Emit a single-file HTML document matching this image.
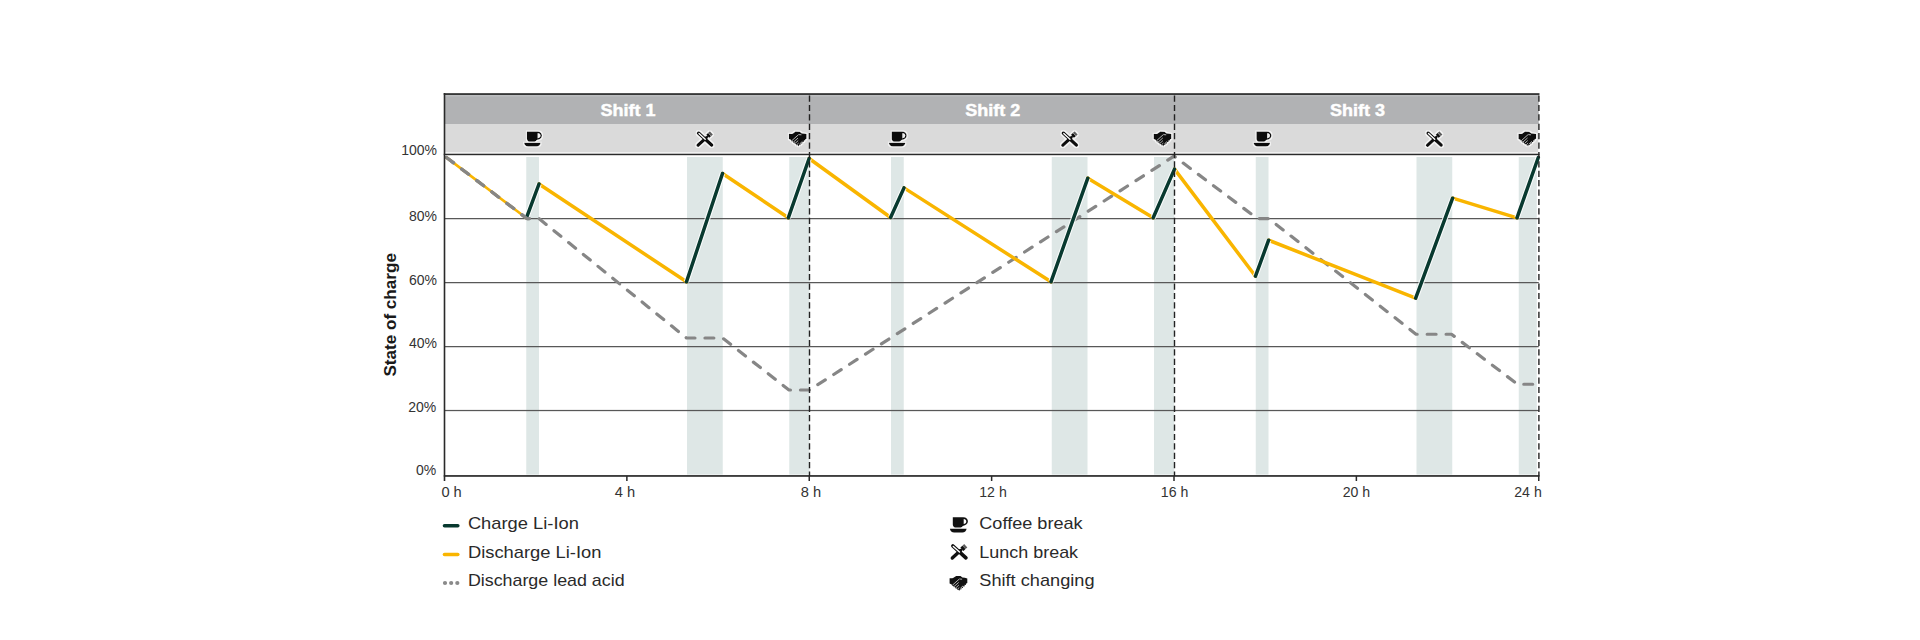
<!DOCTYPE html>
<html lang="en"><head><meta charset="utf-8"><title>State of charge</title>
<style>
html,body{margin:0;padding:0;background:#fff;}
body{width:1920px;height:640px;overflow:hidden;}
svg{display:block;font-family:"Liberation Sans",sans-serif;}
.ax{font-size:14px;fill:#333;}
.lg{font-size:17px;fill:#2a2a2a;}
.sh{font-size:17px;font-weight:bold;fill:#fff;stroke:#fff;stroke-width:.45px;}
.yt{font-size:16.5px;font-weight:bold;fill:#1a1a1a;}
</style></head><body>
<svg width="1920" height="640" viewBox="0 0 1920 640">
<defs>
<filter id="halo" x="-25%" y="-25%" width="150%" height="150%">
<feMorphology in="SourceAlpha" operator="dilate" radius="1" result="d"/>
<feGaussianBlur in="d" stdDeviation=".45" result="b"/>
<feFlood flood-color="#fff" flood-opacity=".75"/>
<feComposite in2="b" operator="in" result="h"/>
<feMerge><feMergeNode in="h"/><feMergeNode in="SourceGraphic"/></feMerge>
</filter>
<g id="cup">
<path d="M2.900 0.100H13.400C16.300 0.100 18 1.800 18 4.100C18 6.600 16 8.300 12.900 8.700C12.400 9.600 11.600 10.200 10.600 10.400H5.500C3.900 10.200 2.900 9 2.900 7.400Z M13.800 1.900V6.900C15.400 6.600 16.400 5.600 16.400 4.300C16.400 3 15.400 2 13.800 1.900Z" fill="#111" fill-rule="evenodd"/>
<path d="M0 11.500H16.700C16.400 13.700 14.800 15.200 12.400 15.200H4.300C1.900 15.200 .3 13.700 0 11.500Z" fill="#111"/>
</g>
<g id="lunch">
<path d="M2 14.200L10.200 6.700" stroke="#111" stroke-width="3.400" stroke-linecap="round" fill="none"/>
<path d="M9.500 7.400L12 5.100" stroke="#111" stroke-width="2" fill="none"/>
<path d="M10.060 3.700L12.130 1.830L15.210 5.230L13.140 7.100Z" fill="#111"/>
<path d="M12.130 1.830L13.910 .220L16.990 3.620L15.210 5.230Z" fill="#5c5c5c"/>
<path d="M2.600 2.200L15.600 14" stroke="#111" stroke-width="3.700" stroke-linecap="round" fill="none"/>
<path d="M3 2.600L9.200 8.200" stroke="#fff" stroke-width="1.400" stroke-linecap="round" fill="none"/>
</g>
<g id="hands">
<path d="M-.1 2.300L2.600 2.400L3.800 1.900L6.500 0L10.800 .150L12.750 1.700L15.100 1.900L17.600 2.500V7.200L16.200 7.900L16.300 9L15 8.900L14.800 10.600L13.500 10.400L13.200 12.200L11.900 11.900L11.500 13.700L10.400 13.300L9.600 14.900L8.400 13.600L7.600 14L6.900 12.400L5.900 12.700L5.300 11.100L4.200 11.400L3.600 9.800L2.500 10.100L2 8.500L-.1 7.600Z" fill="#111"/>
<path d="M2.600 9.400L9.600 3.100M4.200 10.800L9 6.500M5.900 12.100L9.200 9.100M7.600 13.400L9.600 11.600M10.600 12.500L13.400 9.900M9.800 3.100L12.400 3.300" stroke="#fff" stroke-opacity=".9" stroke-width=".75" fill="none"/>
</g>
</defs>

<rect x="444.5" y="94" width="1094.25" height="30" fill="#b1b2b4"/>
<rect x="444.5" y="95" width="1094.25" height="1.5" fill="#bcbdbf"/>
<rect x="444.5" y="124" width="1093.75" height="28.4" fill="#dadada"/>
<rect x="526.25" y="157" width="12.75" height="317.6" fill="#dee7e6"/>
<rect x="687.00" y="157" width="35.75" height="317.6" fill="#dee7e6"/>
<rect x="789.25" y="157" width="20.25" height="317.6" fill="#dee7e6"/>
<rect x="891.00" y="157" width="12.75" height="317.6" fill="#dee7e6"/>
<rect x="1051.75" y="157" width="35.75" height="317.6" fill="#dee7e6"/>
<rect x="1154.00" y="157" width="20.25" height="317.6" fill="#dee7e6"/>
<rect x="1255.75" y="157" width="12.75" height="317.6" fill="#dee7e6"/>
<rect x="1416.50" y="157" width="35.75" height="317.6" fill="#dee7e6"/>
<rect x="1518.75" y="157" width="18.05" height="317.6" fill="#dee7e6"/>
<rect x="444.5" y="218.00" width="1094.25" height="1.25" fill="#585858"/>
<rect x="444.5" y="282.00" width="1094.25" height="1.25" fill="#585858"/>
<rect x="444.5" y="346.00" width="1094.25" height="1.25" fill="#585858"/>
<rect x="444.5" y="409.90" width="1094.25" height="1.25" fill="#585858"/>
<path d="M444.5 156L527 218.6L539 218.6L686.5 338L722.5 338L789 390L809.5 390L1174 156.2L1257.5 218.6L1268.75 218.6L1416 334.25L1451.5 334.25L1517.5 384.25L1538 384.25" stroke="#868686" stroke-width="3.2" stroke-dasharray="8.9 10" stroke-dashoffset="16.4" stroke-linecap="round" stroke-linejoin="round" fill="none"/>
<path d="M446.6 157.59L526.5 218.2" stroke="#f9b500" stroke-width="2.6" stroke-linecap="round" fill="none"/>
<path d="M539 184.0L686.5 281.8" stroke="#f9b500" stroke-width="3.5" stroke-linecap="round" fill="none"/>
<path d="M722.5 173.5L788.3 217.8" stroke="#f9b500" stroke-width="3.5" stroke-linecap="round" fill="none"/>
<path d="M809.1 158.5L890.6 217.5" stroke="#f9b500" stroke-width="3.5" stroke-linecap="round" fill="none"/>
<path d="M904.0 187.9L1051 281.8" stroke="#f9b500" stroke-width="3.5" stroke-linecap="round" fill="none"/>
<path d="M1087.8 178.2L1153.2 217.8" stroke="#f9b500" stroke-width="3.5" stroke-linecap="round" fill="none"/>
<path d="M1174.5 169.1L1255.5 276.2" stroke="#f9b500" stroke-width="3.5" stroke-linecap="round" fill="none"/>
<path d="M1268.6 240.2L1415.7 298.2" stroke="#f9b500" stroke-width="3.5" stroke-linecap="round" fill="none"/>
<path d="M1452.6 198.2L1517 217.8" stroke="#f9b500" stroke-width="3.5" stroke-linecap="round" fill="none"/>
<path d="M526.5 217.6L539 184.0" stroke="#fff" stroke-opacity=".85" stroke-width="5.6" fill="none"/>
<path d="M686.5 281.8L722.5 173.5" stroke="#fff" stroke-opacity=".85" stroke-width="5.6" fill="none"/>
<path d="M788.3 217.8L809.1 158.5" stroke="#fff" stroke-opacity=".85" stroke-width="5.6" fill="none"/>
<path d="M890.6 217.5L904.0 187.9" stroke="#fff" stroke-opacity=".85" stroke-width="5.6" fill="none"/>
<path d="M1051 281.8L1087.8 178.2" stroke="#fff" stroke-opacity=".85" stroke-width="5.6" fill="none"/>
<path d="M1153.2 217.8L1174.5 169.1" stroke="#fff" stroke-opacity=".85" stroke-width="5.6" fill="none"/>
<path d="M1255.5 276.2L1268.6 240.2" stroke="#fff" stroke-opacity=".85" stroke-width="5.6" fill="none"/>
<path d="M1415.7 298.2L1452.6 198.2" stroke="#fff" stroke-opacity=".85" stroke-width="5.6" fill="none"/>
<path d="M1517 217.8L1538.3 157.5" stroke="#fff" stroke-opacity=".85" stroke-width="5.6" fill="none"/>
<path d="M526.5 217.6L539 184.0" stroke="#08392f" stroke-width="3.5" stroke-linecap="round" fill="none"/>
<path d="M686.5 281.8L722.5 173.5" stroke="#08392f" stroke-width="3.5" stroke-linecap="round" fill="none"/>
<path d="M788.3 217.8L809.1 158.5" stroke="#08392f" stroke-width="3.5" stroke-linecap="round" fill="none"/>
<path d="M890.6 217.5L904.0 187.9" stroke="#08392f" stroke-width="3.5" stroke-linecap="round" fill="none"/>
<path d="M1051 281.8L1087.8 178.2" stroke="#08392f" stroke-width="3.5" stroke-linecap="round" fill="none"/>
<path d="M1153.2 217.8L1174.5 169.1" stroke="#08392f" stroke-width="3.5" stroke-linecap="round" fill="none"/>
<path d="M1255.5 276.2L1268.6 240.2" stroke="#08392f" stroke-width="3.5" stroke-linecap="round" fill="none"/>
<path d="M1415.7 298.2L1452.6 198.2" stroke="#08392f" stroke-width="3.5" stroke-linecap="round" fill="none"/>
<path d="M1517 217.8L1538.3 157.5" stroke="#08392f" stroke-width="3.5" stroke-linecap="round" fill="none"/>
<path d="M444.5 156L527 218.6L539 218.6" stroke="#868686" stroke-width="3.2" stroke-dasharray="8.9 10" stroke-dashoffset="16.4" stroke-linecap="round" stroke-linejoin="round" fill="none"/>
<rect x="443.75" y="93.2" width="1095.75" height="1.7" fill="#2a2a2a"/>
<rect x="443.75" y="153.7" width="1095.75" height="1.5" fill="#2a2a2a"/>
<rect x="443.7" y="93" width="1.6" height="388" fill="#2a2a2a"/>
<rect x="443.75" y="475.1" width="1095.75" height="1.7" fill="#2a2a2a"/>
<rect x="626.12" y="476" width="1.5" height="5" fill="#2a2a2a"/>
<rect x="808.50" y="476" width="1.5" height="5" fill="#2a2a2a"/>
<rect x="990.88" y="476" width="1.5" height="5" fill="#2a2a2a"/>
<rect x="1173.25" y="476" width="1.5" height="5" fill="#2a2a2a"/>
<rect x="1355.62" y="476" width="1.5" height="5" fill="#2a2a2a"/>
<rect x="1538.00" y="476" width="1.5" height="5" fill="#2a2a2a"/>
<path d="M809.5 93V476" stroke="#222" stroke-width="1.4" stroke-dasharray="6.2 3.2" stroke-dashoffset="6.9" fill="none"/>
<path d="M1174.5 93V476" stroke="#222" stroke-width="1.4" stroke-dasharray="6.2 3.2" stroke-dashoffset="6.9" fill="none"/>
<path d="M1538.9 93V476" stroke="#222" stroke-width="1.4" stroke-dasharray="6.2 3.2" stroke-dashoffset="6.9" fill="none"/>
<text class="sh" x="628.0" y="116" text-anchor="middle" textLength="55" lengthAdjust="spacingAndGlyphs">Shift 1</text>
<g filter="url(#halo)">
<use href="#cup" x="524.00" y="131.300"/>
<use href="#lunch" x="696.00" y="131"/>
<use href="#hands" x="789.00" y="131.500"/>
</g>
<text class="sh" x="992.8" y="116" text-anchor="middle" textLength="55" lengthAdjust="spacingAndGlyphs">Shift 2</text>
<g filter="url(#halo)">
<use href="#cup" x="888.75" y="131.300"/>
<use href="#lunch" x="1060.75" y="131"/>
<use href="#hands" x="1153.75" y="131.500"/>
</g>
<text class="sh" x="1357.5" y="116" text-anchor="middle" textLength="55" lengthAdjust="spacingAndGlyphs">Shift 3</text>
<g filter="url(#halo)">
<use href="#cup" x="1253.50" y="131.300"/>
<use href="#lunch" x="1425.50" y="131"/>
<use href="#hands" x="1518.50" y="131.500"/>
</g>
<text class="ax" x="437" y="154.8" text-anchor="end">100%</text>
<text class="ax" x="437" y="220.5" text-anchor="end">80%</text>
<text class="ax" x="437" y="284.6" text-anchor="end">60%</text>
<text class="ax" x="437" y="348.3" text-anchor="end">40%</text>
<text class="ax" x="436.2" y="412.25" text-anchor="end">20%</text>
<text class="ax" x="436.2" y="475.2" text-anchor="end">0%</text>
<text class="ax" x="441.40" y="497" textLength="20.4" lengthAdjust="spacingAndGlyphs">0 h</text>
<text class="ax" x="614.80" y="497" textLength="20.4" lengthAdjust="spacingAndGlyphs">4 h</text>
<text class="ax" x="800.80" y="497" textLength="20.4" lengthAdjust="spacingAndGlyphs">8 h</text>
<text class="ax" x="979.25" y="497" textLength="27.5" lengthAdjust="spacingAndGlyphs">12 h</text>
<text class="ax" x="1160.85" y="497" textLength="27.5" lengthAdjust="spacingAndGlyphs">16 h</text>
<text class="ax" x="1342.65" y="497" textLength="27.5" lengthAdjust="spacingAndGlyphs">20 h</text>
<text class="ax" x="1514.25" y="497" textLength="27.5" lengthAdjust="spacingAndGlyphs">24 h</text>
<text class="yt" transform="translate(396.300 376.600) rotate(-90)" textLength="123.500" lengthAdjust="spacingAndGlyphs">State of charge</text>
<path d="M444.500 525.700H457.800" stroke="#08392f" stroke-width="3.600" stroke-linecap="round"/>
<path d="M444.500 554.500H457.800" stroke="#f9b500" stroke-width="3.600" stroke-linecap="round"/>
<path d="M445 583H459" stroke="#8a8a8a" stroke-width="4.200" stroke-linecap="round" stroke-dasharray="0.010 6.150"/>
<text class="lg" x="467.900" y="529.400" textLength="111" lengthAdjust="spacingAndGlyphs">Charge Li-Ion</text>
<text class="lg" x="467.900" y="557.700" textLength="133.600" lengthAdjust="spacingAndGlyphs">Discharge Li-Ion</text>
<text class="lg" x="467.900" y="586.100" textLength="156.700" lengthAdjust="spacingAndGlyphs">Discharge lead acid</text>
<use href="#cup" x="949.900" y="517.200"/>
<use href="#lunch" x="950.300" y="543.800"/>
<use href="#hands" x="949.700" y="575.900"/>
<text class="lg" x="979.300" y="529.400" textLength="103.300" lengthAdjust="spacingAndGlyphs">Coffee break</text>
<text class="lg" x="979.300" y="557.700" textLength="98.800" lengthAdjust="spacingAndGlyphs">Lunch break</text>
<text class="lg" x="979.300" y="586.100" textLength="115.200" lengthAdjust="spacingAndGlyphs">Shift changing</text>
</svg></body></html>
